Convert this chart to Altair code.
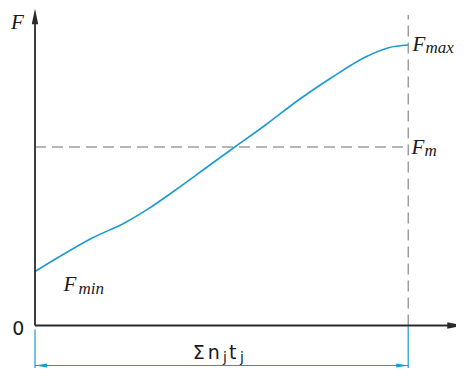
import altair as alt
import pandas as pd

# Curve (x: time-sum axis units, y: force units; origin at axes corner)
curve_t = [0, 23.8, 57.2, 90.5, 113.5, 140.5, 173.5, 200.5, 230.5, 263.5, 297.5, 330.5, 353.5, 373.2]
curve_F = [54, 68.5, 87.5, 103, 116.8, 135.5, 159.5, 179, 200.5, 225.5, 248.5, 268.5, 277.8, 280.5]

T_END = 373.2      # end of the Σ n_j t_j interval
F_M = 178.5        # mean force level
X_MIN, X_MAX = -27, 421
Y_MIN, Y_MAX = -42.5, 317.5
DIM_Y = -40        # dimension line level

DARK = "#2a2a2a"
GRAY = "#6e6e6e"
BLUE = "#1b9bd3"

xs = alt.Scale(domain=[X_MIN, X_MAX], nice=False, zero=False)
ys = alt.Scale(domain=[Y_MIN, Y_MAX], nice=False, zero=False)


def seg_layer(df, **mk):
    return alt.Chart(df).mark_rule(**mk).encode(
        x=alt.X("x:Q", scale=xs, axis=None),
        y=alt.Y("y:Q", scale=ys, axis=None),
        x2="x2:Q",
        y2="y2:Q",
    )


axes_df = pd.DataFrame({
    "x": [0, 0], "y": [0, 0],
    "x2": [0, 421], "y2": [303, 0],
})
dash_df = pd.DataFrame({
    "x": [0, T_END], "y": [F_M, 0],
    "x2": [T_END, T_END], "y2": [F_M, 310.5],
})
blue_df = pd.DataFrame({
    "x": [T_END, 0, 0], "y": [0, -4, DIM_Y],
    "x2": [T_END, 0, T_END], "y2": [Y_MIN, Y_MIN, DIM_Y],
})

axes = seg_layer(axes_df, color=DARK, strokeWidth=1.8)
dashes = seg_layer(dash_df, color=GRAY, strokeWidth=1, strokeDash=[11, 6])
blues = seg_layer(blue_df, color=BLUE, strokeWidth=1.2)

curve_df = pd.DataFrame({"t": curve_t, "F": curve_F})
curve = alt.Chart(curve_df).mark_line(
    color=BLUE, strokeWidth=1.6, interpolate="monotone"
).encode(
    x=alt.X("t:Q", scale=xs, axis=None),
    y=alt.Y("F:Q", scale=ys, axis=None),
)


def arrow(df, shape, size, color):
    return alt.Chart(df).mark_point(
        shape=shape, size=size, filled=True, opacity=1, color=color, strokeWidth=0
    ).encode(
        x=alt.X("x:Q", scale=xs, axis=None),
        y=alt.Y("y:Q", scale=ys, axis=None),
        angle=alt.Angle("a:Q", scale=None),
    )


big_shape = "M0,-1L0.42,1L-0.42,1Z"
small_shape = "M0,-1L0.33,1L-0.33,1Z"
axis_arrows = arrow(pd.DataFrame({"x": [0, 420], "y": [309, 0], "a": [0, 90]}),
                    big_shape, 240, DARK)
dim_arrows = arrow(pd.DataFrame({"x": [6, T_END - 6], "y": [DIM_Y, DIM_Y], "a": [270, 90]}),
                   small_shape, 144, BLUE)

serif_df = pd.DataFrame({
    "x": [-24, 377.5, 390.5, 376.5, 389.5, 28.5, 43.5],
    "y": [297, 274.5, 272.5, 171.5, 169.5, 34.5, 31.5],
    "text": ["F", "F", "max", "F", "m", "F", "min"],
    "s": [21, 21, 17, 21, 17, 21, 17],
})
sans_df = pd.DataFrame({
    "x": [-22.8, 157.8, 172.8, 187.9, 194.0, 204.9],
    "y": [-9.8, -33, -33, -36, -33, -36],
    "text": ["0", "Σ", "n", "j", "t", "j"],
    "s": [19, 19, 19, 14, 19, 14],
})

serif_text = alt.Chart(serif_df).mark_text(
    font="Liberation Serif", fontStyle="italic", align="left", baseline="alphabetic", color="#1a1a1a"
).encode(
    x=alt.X("x:Q", scale=xs, axis=None),
    y=alt.Y("y:Q", scale=ys, axis=None),
    text="text:N",
    size=alt.Size("s:Q", scale=None),
)
sans_text = alt.Chart(sans_df).mark_text(
    font="DejaVu Sans", align="left", baseline="alphabetic", color="#1a1a1a"
).encode(
    x=alt.X("x:Q", scale=xs, axis=None),
    y=alt.Y("y:Q", scale=ys, axis=None),
    text="text:N",
    size=alt.Size("s:Q", scale=None),
)

chart = alt.layer(
    dashes, blues, curve, axes, axis_arrows, dim_arrows, serif_text, sans_text
).properties(
    width=448, height=360, padding=0,
    autosize=alt.AutoSizeParams(type="none"),
    background="white",
).configure_view(stroke=None)

chart.save("out.html", embed_options={"renderer": "svg", "actions": False})
